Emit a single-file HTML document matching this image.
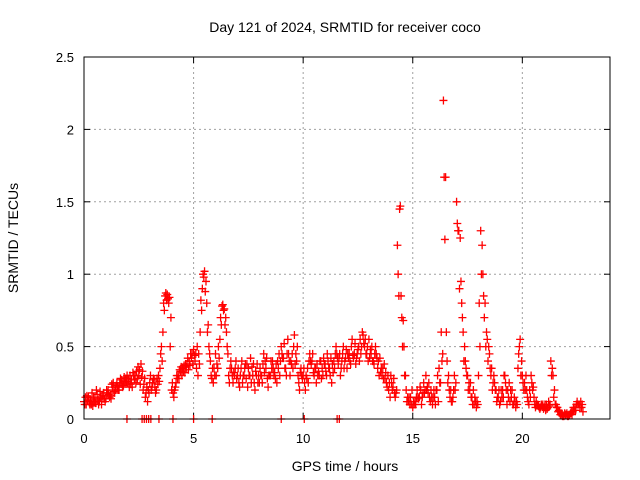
<!DOCTYPE html>
<html><head><meta charset="utf-8"><style>
body{margin:0;background:#fff}
svg{display:block;font-family:"Liberation Sans",sans-serif}
</style></head><body>
<svg id="chart" width="640" height="480" viewBox="0 0 640 480">
<rect width="640" height="480" fill="#fff"/>
<text x="345" y="32" font-size="14" text-anchor="middle">Day 121 of 2024, SRMTID for receiver coco</text>
<text x="345" y="471" font-size="14" text-anchor="middle">GPS time / hours</text>
<text x="18" y="238" font-size="14" text-anchor="middle" transform="rotate(-90 18 238)">SRMTID / TECUs</text>
<g id="grid"></g>
<g id="ticks"></g>
<g id="marks"></g>
<rect x="84" y="57" width="526" height="362" fill="none" stroke="#000" stroke-width="1"/>
</svg>
<script>
const xTicks=[0,5,10,15,20];
const yTicks=[0,0.5,1,1.5,2,2.5];
const yTickLabels=["0","0.5","1","1.5","2","2.5"];
const startHour=0;
const stepHour=0.1;
const values=[
0.12,0.1,0.15,0.13,0.09,0.14,0.17,0.12,0.1,0.18,
0.14,0.2,0.16,0.22,0.18,0.25,0.2,0.27,0.23,0.28,
0.25,0.3,0.22,0.27,0.33,0.3,0.38,0.2,0.15,0.12,
0.25,0.22,0.27,0.2,0.3,0.45,0.6,0.85,0.86,0.84,
0.2,0.15,0.25,0.3,0.33,0.35,0.32,0.38,0.4,0.42,
0.48,0.45,0.3,0.6,0.9,1.02,0.8,0.5,0.3,0.25,
0.45,0.35,0.55,0.78,0.76,0.6,0.3,0.4,0.25,0.35,
0.3,0.22,0.4,0.3,0.28,0.35,0.42,0.3,0.2,0.38,
0.25,0.3,0.45,0.35,0.22,0.3,0.4,0.32,0.25,0.45,
0.5,0.42,0.35,0.55,0.3,0.45,0.58,0.4,0.25,0.35,
0.3,0.2,0.35,0.45,0.4,0.3,0.25,0.33,0.4,0.3,
0.38,0.45,0.35,0.25,0.4,0.5,0.38,0.3,0.45,0.4,
0.35,0.45,0.5,0.42,0.38,0.48,0.55,0.6,0.5,0.45,
0.55,0.45,0.4,0.5,0.35,0.42,0.3,0.38,0.25,0.2,
0.3,0.22,0.15,1.2,1.45,0.7,0.5,0.2,0.12,0.15,
0.08,0.12,0.2,0.15,0.1,0.25,0.3,0.18,0.12,0.1,
0.15,0.2,0.35,0.6,2.2,1.67,0.25,0.15,0.12,0.3,
1.5,1.3,0.95,0.6,0.4,0.3,0.2,0.15,0.1,0.08,
0.3,1.3,1.0,0.8,0.55,0.45,0.35,0.3,0.2,0.15,
0.12,0.2,0.3,0.1,0.25,0.15,0.1,0.08,0.35,0.55,
0.3,0.25,0.2,0.1,0.3,0.22,0.08,0.1,0.07,0.09,
0.08,0.1,0.12,0.4,0.3,0.1,0.08,0.05,0.03,0.02,
0.03,0.02,0.04,0.05,0.08,0.12,0.1,0.08];
const values2=[
0.15,0.13,0.1,0.18,0.12,0.2,0.1,0.15,0.14,0.12,
0.18,0.15,0.24,0.19,0.23,0.2,0.28,0.22,0.26,0.3,
0.22,0.27,0.3,0.25,0.36,0.24,0.33,0.28,0.22,0.18,
0.2,0.28,0.18,0.24,0.35,0.4,0.75,0.82,0.8,0.7,
0.18,0.22,0.28,0.34,0.3,0.37,0.36,0.34,0.45,0.38,
0.4,0.5,0.38,0.75,0.98,0.95,0.65,0.4,0.35,0.3,
0.38,0.42,0.65,0.75,0.7,0.45,0.35,0.3,0.3,0.28,
0.25,0.35,0.3,0.38,0.22,0.3,0.36,0.25,0.3,0.3,
0.3,0.38,0.4,0.28,0.3,0.35,0.3,0.38,0.35,0.4,
0.42,0.35,0.45,0.4,0.38,0.5,0.45,0.3,0.32,0.28,
0.25,0.28,0.4,0.38,0.32,0.35,0.3,0.4,0.35,0.38,
0.3,0.35,0.42,0.32,0.45,0.42,0.45,0.4,0.35,0.48,
0.42,0.38,0.44,0.52,0.45,0.4,0.5,0.52,0.45,0.4,
0.48,0.4,0.45,0.42,0.3,0.35,0.28,0.32,0.3,0.15,
0.2,0.18,0.2,0.85,0.85,0.68,0.3,0.15,0.1,0.2,
0.1,0.15,0.14,0.2,0.18,0.2,0.22,0.15,0.15,0.2,
0.2,0.12,0.25,0.45,1.24,0.4,0.2,0.12,0.2,0.25,
1.3,1.25,0.7,0.5,0.3,0.25,0.15,0.2,0.12,0.1,
0.5,1.2,0.7,0.6,0.5,0.3,0.25,0.2,0.15,0.1,
0.15,0.3,0.2,0.15,0.2,0.1,0.12,0.1,0.5,0.4,
0.2,0.3,0.12,0.15,0.2,0.1,0.1,0.08,0.1,0.07,
0.06,0.08,0.1,0.35,0.2,0.08,0.06,0.04,0.02,0.03,
0.02,0.03,0.03,0.06,0.1,0.1,0.12,0.05];
const values3=[
0.1,0.16,0.12,0.1,0.15,0.11,0.13,0.19,0.16,0.14,
0.2,0.17,0.14,0.25,0.2,0.22,0.25,0.24,0.29,0.26,
0.28,0.24,0.32,0.3,0.28,0.34,0.29,0.24,0.18,0.2,
0.3,0.25,0.22,0.28,0.26,0.5,0.8,0.87,0.83,0.5,
0.25,0.2,0.3,0.28,0.36,0.33,0.38,0.42,0.37,0.45,
0.44,0.35,0.45,0.82,1.0,0.88,0.6,0.45,0.28,0.35,
0.3,0.5,0.7,0.79,0.65,0.5,0.25,0.35,0.32,0.4,
0.35,0.3,0.25,0.35,0.38,0.3,0.25,0.38,0.33,0.25,
0.35,0.25,0.32,0.42,0.3,0.4,0.35,0.28,0.4,0.3,
0.45,0.52,0.3,0.45,0.4,0.35,0.38,0.5,0.2,0.3,
0.35,0.3,0.25,0.4,0.45,0.35,0.38,0.3,0.28,0.42,
0.33,0.4,0.3,0.38,0.35,0.45,0.42,0.35,0.5,0.42,
0.45,0.4,0.55,0.45,0.42,0.5,0.45,0.58,0.55,0.5,
0.42,0.5,0.38,0.45,0.4,0.32,0.35,0.28,0.22,0.25,
0.25,0.28,0.18,1.0,1.47,0.5,0.3,0.12,0.15,0.1,
0.12,0.1,0.15,0.22,0.15,0.18,0.2,0.25,0.2,0.15,
0.1,0.3,0.25,0.4,1.67,0.6,0.3,0.2,0.15,0.2,
1.35,0.9,0.8,0.4,0.35,0.2,0.25,0.1,0.15,0.12,
0.8,1.0,0.85,0.5,0.4,0.35,0.2,0.25,0.12,0.2,
0.2,0.15,0.25,0.2,0.12,0.2,0.15,0.12,0.45,0.3,
0.25,0.2,0.15,0.2,0.25,0.15,0.12,0.09,0.08,0.1,
0.1,0.07,0.09,0.3,0.15,0.1,0.05,0.03,0.02,0.04,
0.04,0.03,0.05,0.08,0.06,0.1,0.08,0.1];
const zeroHours=[1.96,2.65,2.75,2.85,2.95,3.05,3.42,4.06,5.0,5.85,9.0,10.05,11.55,11.65];

const X0=84,X1=610,Y0=419,Y1=57,XMAX=24,YMAX=2.5;
function xs(h){return X0+(X1-X0)*h/XMAX;}
function ys(v){return Y0-(Y0-Y1)*v/YMAX;}
const NS="http://www.w3.org/2000/svg";
const grid=document.getElementById('grid'),ticks=document.getElementById('ticks'),marks=document.getElementById('marks');
function mk(tag,attrs,parent){const e=document.createElementNS(NS,tag);for(const k in attrs)e.setAttribute(k,attrs[k]);parent.appendChild(e);return e;}
xTicks.forEach(t=>{
  const x=xs(t);
  if(t>0){const g=mk('line',{x1:x,x2:x,y1:Y1,y2:Y0,stroke:'#a0a0a0','stroke-dasharray':'2,3'},grid);
  
  }
  const a=mk('line',{x1:x,x2:x,y1:Y0,y2:Y0-6,stroke:'#000'},ticks);
  
  
  const b=mk('line',{x1:x,x2:x,y1:Y1,y2:Y1+6,stroke:'#000'},ticks);
  
  
  const l=mk('text',{x:x,y:443,'font-size':13,'text-anchor':'middle'},ticks);l.textContent=String(t);
  
  
});
yTicks.forEach((t,i)=>{
  const y=ys(t);
  if(t>0&&t<YMAX){const g=mk('line',{x1:X0,x2:X1,y1:y,y2:y,stroke:'#a0a0a0','stroke-dasharray':'2,3'},grid);
  
  }
  const a=mk('line',{x1:X0,x2:X0+6,y1:y,y2:y,stroke:'#000'},ticks);
  
  
  const b=mk('line',{x1:X1,x2:X1-6,y1:y,y2:y,stroke:'#000'},ticks);
  
  
  const l=mk('text',{x:74,y:y+5,'font-size':13,'text-anchor':'end'},ticks);l.textContent=yTickLabels[i];
  
  
});
function plus(h,v){
  const x=xs(h),y=ys(v);
  const p=mk('path',{d:`M${x-4} ${y}h8M${x} ${y-4}v8`,stroke:'#f00','stroke-width':1.3,fill:'none'},marks);
  
  
}
values.forEach((v,i)=>plus(startHour+i*stepHour,v));
values3.forEach((v,i)=>plus(startHour+i*stepHour+0.033,v));
values2.forEach((v,i)=>plus(startHour+i*stepHour+0.066,v));
zeroHours.forEach(h=>plus(h,0));
</script>
</body></html>
